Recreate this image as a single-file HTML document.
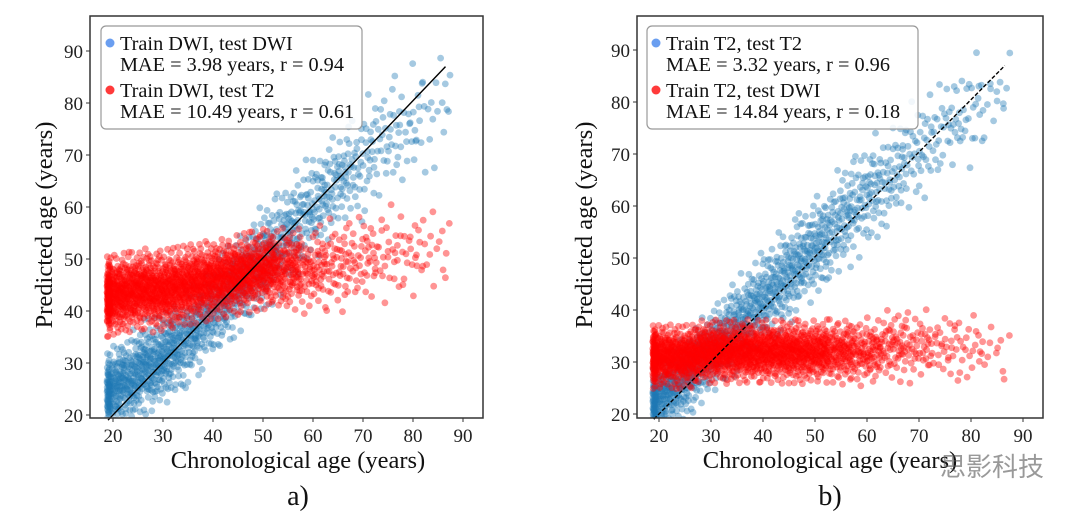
<!DOCTYPE html>
<html><head><meta charset="utf-8">
<style>
html,body{margin:0;padding:0;background:#fff;}
svg{display:block;font-family:"Liberation Serif","Noto Serif CJK SC",serif;}
</style></head>
<body>
<svg id="chart" width="1080" height="516" viewBox="0 0 1080 516">
</svg>
<script>
// Binned data (age bin centres, mean predicted age, spread, point counts)
const ageBins = [20,25,30,35,40,45,50,55,60,65,70,75,80,85];
const aBlueMean = [25,28,31,35,40,45,50,55,60,65,69,73,76,79];
const aBlueSpread = [3.5,4,4,4,4,4,4.5,4.5,4.5,4.5,5,5,5,5];
const aBlueCount = [170,160,150,120,110,110,100,80,70,60,45,32,25,14];
const aRedMean = [43,44,44,45,46,47,48,48,48,49,50,51,51,52];
const aRedSpread = [3.3,3.3,3.3,3.3,3.3,3.3,3.3,3.5,3.5,4,4,4,4,4.5];
const aRedCount = [260,240,230,220,210,200,180,120,70,50,38,26,22,12];
const bBlueMean = [23,27,32,37,42,47,52,57,62,66,71,75,78,81];
const bBlueSpread = [3,3.5,3.5,4,4,4.2,4.2,4.5,4.5,4.5,4.5,4.5,4.5,4];
const bBlueCount = [160,140,120,115,110,110,100,80,65,50,38,30,25,12];
const bRedMean = [31,31,32,32,32,32,32,32,32,33,33,33,33,32];
const bRedSpread = [2.6,2.6,2.6,2.6,2.6,2.6,2.6,2.7,2.8,3,3,3,3,3.5];
const bRedCount = [240,230,220,210,200,190,170,120,85,60,42,28,20,10];
const tickVals = [20,30,40,50,60,70,80,90];
const legendA = ["Train DWI, test DWI","MAE = 3.98 years, r = 0.94","Train DWI, test T2","MAE = 10.49 years, r = 0.61"];
const legendB = ["Train T2, test T2","MAE = 3.32 years, r = 0.96","Train T2, test DWI","MAE = 14.84 years, r = 0.18"];

const NS="http://www.w3.org/2000/svg";
const svg=document.getElementById('chart');
function mk(tag,attrs,parent){const e=document.createElementNS(NS,tag);for(const k in attrs)e.setAttribute(k,attrs[k]);(parent||svg).appendChild(e);return e;}
function halton(i,b){let f=1,r=0;while(i>0){f/=b;r+=f*(i%b);i=Math.floor(i/b);}return r;}
function invnorm(p){p=Math.min(Math.max(p,0.01),0.99);const t=Math.sqrt(-2*Math.log(p<0.5?p:1-p));const z=t-(2.515517+0.802853*t+0.010328*t*t)/(1+1.432788*t+0.189269*t*t+0.001308*t*t*t);return p<0.5?-z:z;}

function panel(cfg){
  const g=mk('g',{});
  
  
  const xS=v=>cfg.x20+(v-20)*cfg.xk;
  const yS=v=>cfg.y20-(v-20)*cfg.yk;
  const clip='clip-'+cfg.name;
  const cp=mk('clipPath',{id:clip},g);
  mk('rect',{x:cfg.L,y:cfg.T,width:cfg.R-cfg.L,height:cfg.B-cfg.T},cp);
  const pts=mk('g',{'clip-path':'url(#'+clip+')'},g);
  let idx=1;
  function cloud(means,spreads,counts,color,name,op){
    const cg=mk('g',{},pts);
    
    
    for(let b=0;b<ageBins.length;b++){
      const n=counts[b];
      for(let i=0;i<n;i++){
        idx++;
        const u=halton(idx,2), w=halton(idx,3);
        let ax=ageBins[b]-2.5+u*5;
        if(ax<18.8) ax=18.8+u*2.4;
        const py=means[b]+(ax-ageBins[b])*cfg.slope[name]+invnorm(w)*spreads[b];
        mk('circle',{cx:xS(ax).toFixed(1),cy:yS(py).toFixed(1),r:3.4,fill:color,'fill-opacity':op},cg);
      }
    }
  }
  cloud(cfg.blueMean,cfg.blueSpread,cfg.blueCount,'#1f77b4','blue',0.4);
  cloud(cfg.redMean,cfg.redSpread,cfg.redCount,'#ff0000','red',0.42);
  const ln=mk('line',{x1:xS(19),y1:yS(19),x2:xS(86.5),y2:yS(87),stroke:'#000','stroke-width':1.4,'stroke-dasharray':cfg.dash||''},g);
  
  
  const fr=mk('rect',{x:cfg.L,y:cfg.T,width:cfg.R-cfg.L,height:cfg.B-cfg.T,fill:'none',stroke:'#333','stroke-width':1.5},g);
  
  
  tickVals.forEach(v=>{
    mk('line',{x1:xS(v),y1:cfg.B,x2:xS(v),y2:cfg.B+4,stroke:'#333'},g);
    const t=mk('text',{x:xS(v),y:cfg.B+24,'font-size':19,'text-anchor':'middle',fill:'#222'},g);
    t.textContent=v;
    
    
    mk('line',{x1:cfg.L-4,y1:yS(v),x2:cfg.L,y2:yS(v),stroke:'#333'},g);
    const ty=mk('text',{x:cfg.L-7,y:yS(v)+7,'font-size':19,'text-anchor':'end',fill:'#222'},g);
    ty.textContent=v;
    
    
  });
  const xt=mk('text',{x:cfg.xlx,y:468,'font-size':24.5,'text-anchor':'middle',fill:'#111'},g);
  xt.textContent='Chronological age (years)';
  
  
  const yt=mk('text',{x:0,y:0,'font-size':24.5,'text-anchor':'middle',fill:'#111',transform:'translate('+cfg.ylx+',225) rotate(-90)'},g);
  yt.textContent='Predicted age (years)';
  
  
  const pl=mk('text',{x:cfg.xlx,y:505,'font-size':28,'text-anchor':'middle',fill:'#111'},g);
  pl.textContent=cfg.label;
  
  
  const lg=mk('g',{},g);
  
  
  mk('rect',{x:cfg.lgx,y:26,width:cfg.lgw,height:103,rx:5,fill:'#fff','fill-opacity':0.85,stroke:'#999','stroke-width':1.2},lg);
  const cols=['#6a9ef0','#ff3a3a'];
  [0,1].forEach(k=>{
    const m=mk('circle',{cx:cfg.lgx+9,cy:43+k*47,r:4.5,fill:cols[k]},lg);
    
    
    const t1=mk('text',{x:cfg.lgx+19,y:50+k*47,'font-size':20.3,fill:'#111'},lg);
    t1.textContent=cfg.legend[2*k];
    
    
    const t2=mk('text',{x:cfg.lgx+19,y:71+k*47,'font-size':20.3,fill:'#111'},lg);
    t2.textContent=cfg.legend[2*k+1];
    
    
  });
}
panel({name:'panel-a',L:90,R:483,T:16,B:418,x20:113,xk:5.0,y20:415,yk:5.2,
  blueMean:aBlueMean,blueSpread:aBlueSpread,blueCount:aBlueCount,
  redMean:aRedMean,redSpread:aRedSpread,redCount:aRedCount,slope:{blue:0.95,red:0.2},
  xlx:298,ylx:52,label:'a)',lgx:101,lgw:261,legend:legendA});
panel({name:'panel-b',L:637,R:1043,T:16,B:418,x20:659,xk:5.2,y20:414,yk:5.2,
  blueMean:bBlueMean,blueSpread:bBlueSpread,blueCount:bBlueCount,
  redMean:bRedMean,redSpread:bRedSpread,redCount:bRedCount,slope:{blue:0.95,red:0.05},
  xlx:830,ylx:592,label:'b)',lgx:647,lgw:271,legend:legendB,dash:'4,2'});
const wm=mk('text',{x:940,y:476,'font-size':26,fill:'#555','fill-opacity':0.6,'font-family':'"Noto Sans CJK SC",sans-serif'});
wm.textContent='思影科技';


</script>
</body></html>
